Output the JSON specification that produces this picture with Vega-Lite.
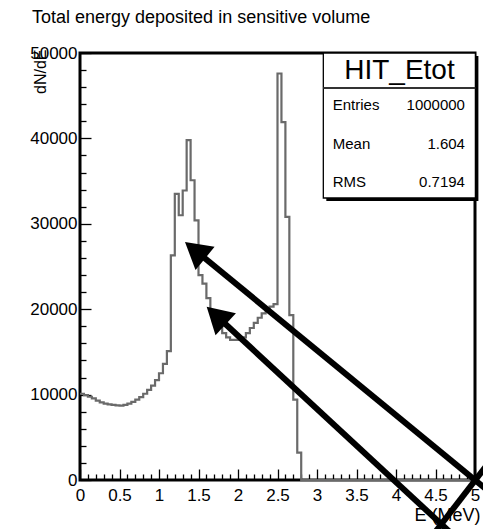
{
  "$schema": "https://vega.github.io/schema/vega-lite/v6.json",
  "width": 395,
  "height": 427,
  "autosize": {"type": "none"},
  "padding": {"left": 80, "top": 53, "right": 8, "bottom": 49},
  "background": "white",
  "config": {
    "view": {"stroke": "black", "strokeWidth": 3},
    "font": "Liberation Sans"
  },
  "title": {
    "text": "Total energy deposited in sensitive volume",
    "anchor": "start",
    "frame": "group",
    "dx": -48,
    "offset": 17,
    "font": "Liberation Sans",
    "fontSize": 18,
    "fontWeight": "normal",
    "color": "black"
  },
  "datasets": {
    "hist": [
      {"E": 0.00, "count": 10100}, {"E": 0.05, "count": 9950}, {"E": 0.10, "count": 9750}, {"E": 0.15, "count": 9550},
      {"E": 0.20, "count": 9300}, {"E": 0.25, "count": 9100}, {"E": 0.30, "count": 8950}, {"E": 0.35, "count": 8850},
      {"E": 0.40, "count": 8800}, {"E": 0.45, "count": 8750}, {"E": 0.50, "count": 8700}, {"E": 0.55, "count": 8800},
      {"E": 0.60, "count": 8950}, {"E": 0.65, "count": 9150}, {"E": 0.70, "count": 9400}, {"E": 0.75, "count": 9700},
      {"E": 0.80, "count": 10100}, {"E": 0.85, "count": 10550}, {"E": 0.90, "count": 11050}, {"E": 0.95, "count": 11700},
      {"E": 1.00, "count": 12500}, {"E": 1.05, "count": 13600}, {"E": 1.10, "count": 15100}, {"E": 1.15, "count": 26300},
      {"E": 1.20, "count": 33500}, {"E": 1.25, "count": 31000}, {"E": 1.30, "count": 33900}, {"E": 1.35, "count": 39800},
      {"E": 1.40, "count": 35100}, {"E": 1.45, "count": 30400}, {"E": 1.50, "count": 24000}, {"E": 1.55, "count": 23000},
      {"E": 1.60, "count": 21300}, {"E": 1.65, "count": 19900}, {"E": 1.70, "count": 18800}, {"E": 1.75, "count": 17900},
      {"E": 1.80, "count": 17200}, {"E": 1.85, "count": 16700}, {"E": 1.90, "count": 16400}, {"E": 1.95, "count": 16400},
      {"E": 2.00, "count": 16500}, {"E": 2.05, "count": 16700}, {"E": 2.10, "count": 17200}, {"E": 2.15, "count": 17800},
      {"E": 2.20, "count": 18400}, {"E": 2.25, "count": 19000}, {"E": 2.30, "count": 19500}, {"E": 2.35, "count": 19900},
      {"E": 2.40, "count": 20300}, {"E": 2.45, "count": 20600}, {"E": 2.50, "count": 47600}, {"E": 2.55, "count": 41900},
      {"E": 2.60, "count": 30800}, {"E": 2.65, "count": 19300}, {"E": 2.70, "count": 9400}, {"E": 2.75, "count": 3200},
      {"E": 2.80, "count": 0}, {"E": 2.85, "count": 0}, {"E": 2.90, "count": 0}, {"E": 2.95, "count": 0},
      {"E": 3.00, "count": 0}, {"E": 3.05, "count": 0}, {"E": 3.10, "count": 0}, {"E": 3.15, "count": 0},
      {"E": 3.20, "count": 0}, {"E": 3.25, "count": 0}, {"E": 3.30, "count": 0}, {"E": 3.35, "count": 0},
      {"E": 3.40, "count": 0}, {"E": 3.45, "count": 0}, {"E": 3.50, "count": 0}, {"E": 3.55, "count": 0},
      {"E": 3.60, "count": 0}, {"E": 3.65, "count": 0}, {"E": 3.70, "count": 0}, {"E": 3.75, "count": 0},
      {"E": 3.80, "count": 0}, {"E": 3.85, "count": 0}, {"E": 3.90, "count": 0}, {"E": 3.95, "count": 0},
      {"E": 4.00, "count": 0}, {"E": 4.05, "count": 0}, {"E": 4.10, "count": 0}, {"E": 4.15, "count": 0},
      {"E": 4.20, "count": 0}, {"E": 4.25, "count": 0}, {"E": 4.30, "count": 0}, {"E": 4.35, "count": 0},
      {"E": 4.40, "count": 0}, {"E": 4.45, "count": 0}, {"E": 4.50, "count": 0}, {"E": 4.55, "count": 0},
      {"E": 4.60, "count": 0}, {"E": 4.65, "count": 0}, {"E": 4.70, "count": 0}, {"E": 4.75, "count": 0},
      {"E": 4.80, "count": 0}, {"E": 4.85, "count": 0}, {"E": 4.90, "count": 0}, {"E": 4.95, "count": 0}
    ],
    "one": [{}]
  },
  "resolve": {"axis": {"x": "independent", "y": "independent"}},
  "layer": [
    {
      "data": {"name": "hist"},
      "mark": {"type": "line", "interpolate": "step-after", "stroke": "#6a6a6a", "strokeWidth": 2.2},
      "encoding": {
        "x": {
          "field": "E", "type": "quantitative",
          "scale": {"domain": [0, 5], "nice": false, "zero": false},
          "axis": {
            "orient": "bottom",
            "values": [0, 0.5, 1, 1.5, 2, 2.5, 3, 3.5, 4, 4.5, 5],
            "format": "~g",
            "ticks": false, "domain": false, "grid": false,
            "labelFont": "Liberation Sans", "labelFontSize": 17, "labelColor": "black",
            "labelPadding": 7, "labelFlush": false, "labelOverlap": false, "labelBound": false,
            "labelAlign": "center", "labelBaseline": "top",
            "title": "E (MeV)", "titleFont": "Liberation Sans", "titleFontSize": 18, "titleFontWeight": "normal",
            "titleColor": "black", "titleAlign": "right", "titleBaseline": "alphabetic", "titleX": 400, "titleY": 40
          }
        },
        "y": {
          "field": "count", "type": "quantitative",
          "scale": {"domain": [0, 50000], "nice": false, "zero": true},
          "axis": {
            "orient": "left",
            "values": [0, 10000, 20000, 30000, 40000, 50000],
            "format": "d",
            "ticks": false, "domain": false, "grid": false,
            "labelFont": "Liberation Sans", "labelFontSize": 17, "labelColor": "black",
            "labelPadding": 3, "labelOverlap": false, "labelBound": false, "labelFlush": false,
            "labelAlign": "right", "labelBaseline": "middle",
            "title": "dN/dE", "titleFont": "Liberation Sans", "titleFontSize": 16, "titleFontWeight": "normal",
            "titleColor": "black", "titleAngle": -90, "titleAlign": "right", "titleBaseline": "middle",
            "titleX": -40, "titleY": -4
          }
        }
      }
    },
    {
      "data": {"name": "hist"},
      "mark": {"type": "point", "opacity": 0},
      "encoding": {
        "x": {
          "field": "E", "type": "quantitative",
          "axis": {
            "orient": "bottom",
            "values": [0, 0.5, 1, 1.5, 2, 2.5, 3, 3.5, 4, 4.5, 5],
            "labels": false, "domain": false, "grid": false, "title": null,
            "tickSize": -11, "tickColor": "black", "tickWidth": 1.3
          }
        },
        "y": {
          "field": "count", "type": "quantitative",
          "axis": {
            "orient": "left",
            "values": [0, 10000, 20000, 30000, 40000, 50000],
            "labels": false, "domain": false, "grid": false, "title": null,
            "tickSize": -11, "tickColor": "black", "tickWidth": 1.3
          }
        }
      }
    },
    {
      "data": {"name": "hist"},
      "mark": {"type": "point", "opacity": 0},
      "encoding": {
        "x": {
          "field": "E", "type": "quantitative",
          "axis": {
            "orient": "bottom",
            "values": [0.1, 0.2, 0.3, 0.4, 0.6, 0.7, 0.8, 0.9, 1.1, 1.2, 1.3, 1.4, 1.6, 1.7, 1.8, 1.9, 2.1, 2.2, 2.3, 2.4, 2.6, 2.7, 2.8, 2.9, 3.1, 3.2, 3.3, 3.4, 3.6, 3.7, 3.8, 3.9, 4.1, 4.2, 4.3, 4.4, 4.6, 4.7, 4.8, 4.9],
            "labels": false, "domain": false, "grid": false, "title": null,
            "tickSize": -6, "tickColor": "black", "tickWidth": 1.3
          }
        },
        "y": {
          "field": "count", "type": "quantitative",
          "axis": {
            "orient": "left",
            "values": [2000, 4000, 6000, 8000, 12000, 14000, 16000, 18000, 22000, 24000, 26000, 28000, 32000, 34000, 36000, 38000, 42000, 44000, 46000, 48000],
            "labels": false, "domain": false, "grid": false, "title": null,
            "tickSize": -6, "tickColor": "black", "tickWidth": 1.3
          }
        }
      }
    },
    {
      "data": {"name": "one"},
      "mark": {"type": "rect", "color": "black", "xOffset": 3, "x2Offset": 3, "yOffset": 3, "y2Offset": 3},
      "encoding": {
        "x": {"datum": 3.08, "type": "quantitative", "axis": null},
        "x2": {"datum": 5.005},
        "y": {"datum": 50000, "type": "quantitative", "axis": null},
        "y2": {"datum": 33020}
      }
    },
    {
      "data": {"name": "one"},
      "mark": {"type": "rect", "fill": "white", "stroke": "black", "strokeWidth": 1.3},
      "encoding": {
        "x": {"datum": 3.08, "type": "quantitative", "axis": null},
        "x2": {"datum": 5.005},
        "y": {"datum": 50000, "type": "quantitative", "axis": null},
        "y2": {"datum": 33020}
      }
    },
    {
      "data": {"name": "one"},
      "mark": {"type": "rule", "color": "#333333", "strokeWidth": 2.2},
      "encoding": {
        "x": {"datum": 3.08, "type": "quantitative", "axis": null},
        "x2": {"datum": 5.005},
        "y": {"datum": 45900, "type": "quantitative", "axis": null}
      }
    },
    {
      "data": {"name": "one"},
      "mark": {"type": "text", "text": "HIT_Etot", "font": "Liberation Sans", "fontSize": 28, "align": "center", "baseline": "middle", "color": "black"},
      "encoding": {
        "x": {"datum": 4.044, "type": "quantitative", "axis": null},
        "y": {"datum": 47900, "type": "quantitative", "axis": null}
      }
    },
    {
      "data": {"name": "one"},
      "mark": {"type": "text", "text": ["Entries", "Mean", "RMS"], "font": "Liberation Sans", "fontSize": 15, "lineHeight": 38.5, "align": "left", "baseline": "middle", "color": "black"},
      "encoding": {
        "x": {"datum": 3.199, "type": "quantitative", "axis": null},
        "y": {"datum": 43910, "type": "quantitative", "axis": null}
      }
    },
    {
      "data": {"name": "one"},
      "mark": {"type": "text", "text": ["1000000", "1.604", "0.7194"], "font": "Liberation Sans", "fontSize": 15, "lineHeight": 38.5, "align": "right", "baseline": "middle", "color": "black"},
      "encoding": {
        "x": {"datum": 4.873, "type": "quantitative", "axis": null},
        "y": {"datum": 43910, "type": "quantitative", "axis": null}
      }
    },
    {
      "data": {"name": "one"},
      "mark": {"type": "rule", "color": "black", "strokeWidth": 6, "strokeCap": "butt"},
      "encoding": {
        "x": {"datum": 1.456, "type": "quantitative", "axis": null},
        "y": {"datum": 26910, "type": "quantitative", "axis": null},
        "x2": {"datum": 5.139},
        "y2": {"datum": -1054}
      }
    },
    {
      "data": {"name": "one"},
      "mark": {"type": "rule", "color": "black", "strokeWidth": 6, "strokeCap": "butt"},
      "encoding": {
        "x": {"datum": 1.724, "type": "quantitative", "axis": null},
        "y": {"datum": 19260, "type": "quantitative", "axis": null},
        "x2": {"datum": 4.722},
        "y2": {"datum": -6440}
      }
    },
    {
      "data": {"name": "one"},
      "mark": {"type": "rule", "color": "black", "strokeWidth": 6, "strokeCap": "butt"},
      "encoding": {
        "x": {"datum": 4.468, "type": "quantitative", "axis": null},
        "y": {"datum": -6440, "type": "quantitative", "axis": null},
        "x2": {"datum": 5.19},
        "y2": {"datum": 2225}
      }
    },
    {
      "data": {"name": "one"},
      "mark": {"type": "point", "shape": "triangle-up", "filled": true, "size": 900, "angle": 309.4, "color": "black", "opacity": 1},
      "encoding": {
        "x": {"datum": 1.456, "type": "quantitative", "axis": null},
        "y": {"datum": 26910, "type": "quantitative", "axis": null}
      }
    },
    {
      "data": {"name": "one"},
      "mark": {"type": "point", "shape": "triangle-up", "filled": true, "size": 900, "angle": 312.8, "color": "black", "opacity": 1},
      "encoding": {
        "x": {"datum": 1.724, "type": "quantitative", "axis": null},
        "y": {"datum": 19260, "type": "quantitative", "axis": null}
      }
    }
  ]
}
